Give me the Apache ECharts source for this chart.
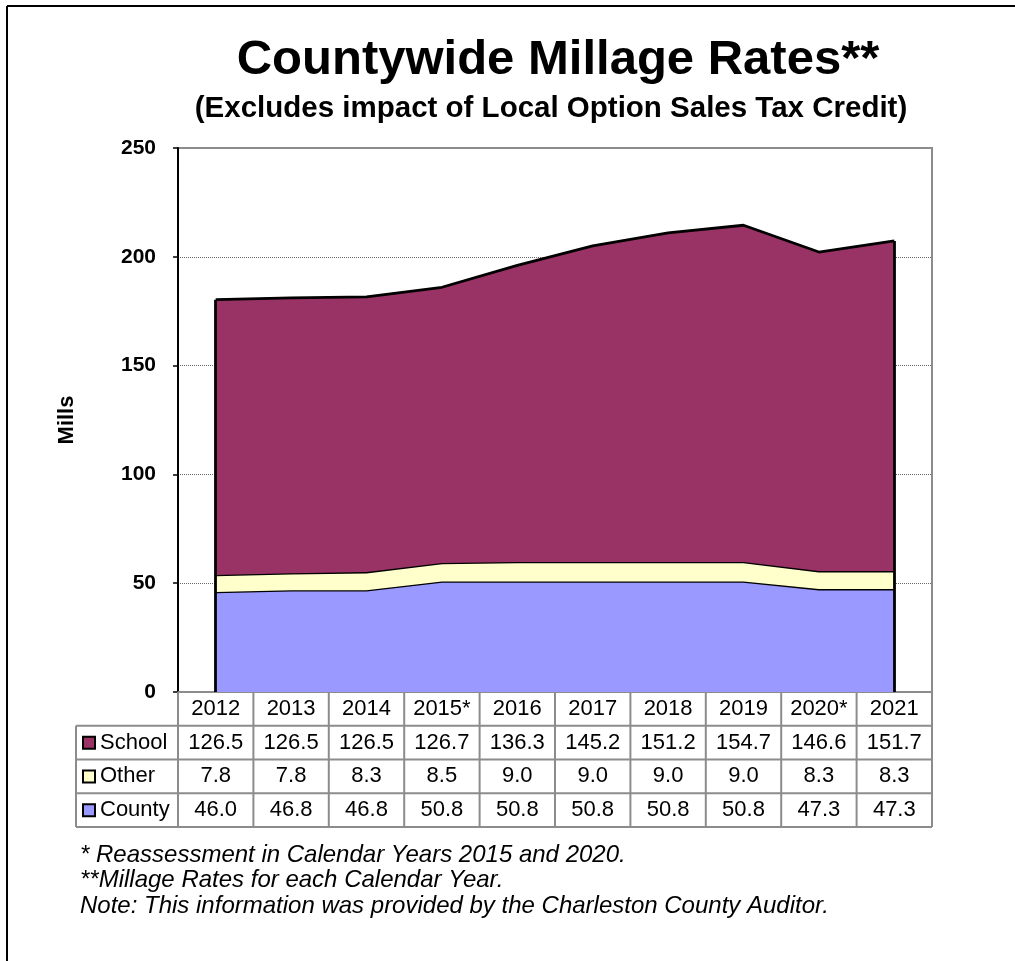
<!DOCTYPE html>
<html>
<head>
<meta charset="utf-8">
<script src="https://cdn.jsdelivr.net/npm/echarts@6/dist/echarts.min.js"></script>
<style>
html,body{margin:0;padding:0;background:#fff;}
#chart{width:1015px;height:961px;}
</style>
</head>
<body>
<div id="chart"></div>
<script>
const years = ['2012','2013','2014','2015*','2016','2017','2018','2019','2020*','2021'];
const school = [126.5,126.5,126.5,126.7,136.3,145.2,151.2,154.7,146.6,151.7];
const other = [7.8,7.8,8.3,8.5,9.0,9.0,9.0,9.0,8.3,8.3];
const county = [46.0,46.8,46.8,50.8,50.8,50.8,50.8,50.8,47.3,47.3];
const seriesNames = ['School','Other','County'];
const yMin = 0, yMax = 250, yStep = 50;
const footnotes = [
  '* Reassessment in Calendar Years 2015 and 2020.',
  '**Millage Rates for each Calendar Year.',
  'Note: This information was provided by the Charleston County Auditor.'
];

const colors = {School:'#993366', Other:'#FFFFCC', County:'#9999FF'};
const FONT = 'Arial, "Liberation Sans", sans-serif';
const totals = years.map((_, i) => +(county[i] + other[i] + school[i]).toFixed(1));

const GRID = {left:178, top:148, right:83, bottom:269};
const chart = echarts.init(document.getElementById('chart'), null, {renderer:'canvas'});

const gridCount = Math.round((yMax - yMin) / yStep) + 1;
const splitColors = [];
for (let i = 0; i < gridCount; i++) splitColors.push(i === 0 || i === gridCount - 1 ? 'rgba(0,0,0,0)' : '#666');

const option = {
  animation: false,
  backgroundColor: '#fff',
  textStyle: {fontFamily: FONT},
  title: [
    {text: 'Countywide Millage Rates**', left: 553, top: 31, textAlign: 'center',
     textStyle: {fontFamily: FONT, fontSize: 49, fontWeight: 'bold', color: '#000'}},
    {text: '(Excludes impact of Local Option Sales Tax Credit)', left: 546, top: 89, textAlign: 'center',
     textStyle: {fontFamily: FONT, fontSize: 29.5, fontWeight: 'bold', color: '#000'}}
  ],
  grid: {left: GRID.left, top: GRID.top, right: GRID.right, bottom: GRID.bottom,
         show: true, borderColor: '#8c8c8c', borderWidth: 2, backgroundColor: '#fff'},
  xAxis: {
    type: 'category', data: years, boundaryGap: true,
    axisLine: {lineStyle: {color: '#8c8c8c', width: 2}},
    axisTick: {show: false},
    axisLabel: {color: '#000', fontSize: 22, fontFamily: FONT, margin: 6, interval: 0}
  },
  yAxis: {
    type: 'value', min: yMin, max: yMax, interval: yStep,
    name: 'Mills', nameLocation: 'middle', nameRotate: 90, nameGap: 100,
    nameTextStyle: {fontFamily: FONT, fontSize: 22, fontWeight: 'bold', color: '#000'},
    axisLine: {show: true, lineStyle: {color: '#000', width: 2}},
    axisTick: {show: true, length: 5, lineStyle: {color: '#000', width: 1.5}},
    axisLabel: {color: '#000', fontSize: 21, fontWeight: 'bold', fontFamily: FONT, margin: 22},
    splitLine: {show: true, lineStyle: {color: splitColors, type: 'dotted', width: 1}}
  },
  series: [
    {name: 'County', type: 'line', stack: 'total', data: county, showSymbol: false, symbol: 'none',
     lineStyle: {color: '#000', width: 2.8}, areaStyle: {color: colors.County, opacity: 1}, z: 2},
    {name: 'Other', type: 'line', stack: 'total', data: other, showSymbol: false, symbol: 'none',
     lineStyle: {color: '#000', width: 2.8}, areaStyle: {color: colors.Other, opacity: 1}, z: 3},
    {name: 'School', type: 'line', stack: 'total', data: school, showSymbol: false, symbol: 'none',
     lineStyle: {color: '#000', width: 2.8}, areaStyle: {color: colors.School, opacity: 1}, z: 4,
     markLine: {
       silent: true, symbol: 'none', label: {show: false}, animation: false,
       lineStyle: {color: '#000', width: 2.8, type: 'solid'},
       data: [
         [{coord: [years[0], 0]}, {coord: [years[0], totals[0]]}],
         [{coord: [years[years.length-1], 0]}, {coord: [years[years.length-1], totals[totals.length-1]]}]
       ]
     }}
  ]
};
chart.setOption(option);

// Data table below the plot, laid out from the grid
function buildTable() {
  const W = chart.getWidth(), H = chart.getHeight();
  const x0 = GRID.left, x1 = W - GRID.right, yAxisPx = H - GRID.bottom;
  const n = years.length;
  const colW = (x1 - x0) / n;
  const rowH = 33.75;
  const tableLeft = 76;
  const rows = [
    {name: 'School', vals: school},
    {name: 'Other', vals: other},
    {name: 'County', vals: county}
  ];
  const lineStyle = {stroke: '#8c8c8c', lineWidth: 2};
  const els = [];
  const yRow0 = yAxisPx + rowH; // bottom of year row
  for (let r = 0; r <= rows.length; r++) {
    const y = yRow0 + r * rowH;
    els.push({type: 'line', shape: {x1: tableLeft, y1: y, x2: x1, y2: y}, style: lineStyle, z: 10});
  }
  els.push({type: 'line', shape: {x1: tableLeft, y1: yRow0, x2: tableLeft, y2: yRow0 + rows.length*rowH}, style: lineStyle, z: 10});
  for (let k = 0; k <= n; k++) {
    const x = x0 + k * colW;
    els.push({type: 'line', shape: {x1: x, y1: yAxisPx, x2: x, y2: yRow0 + rows.length*rowH}, style: lineStyle, z: 10});
  }
  rows.forEach((row, r) => {
    const cy = yRow0 + r * rowH + rowH / 2;
    els.push({type: 'rect', shape: {x: 83, y: cy - 6, width: 12, height: 12},
      style: {fill: colors[row.name], stroke: '#000', lineWidth: 2}, z: 11});
    els.push({type: 'text', x: 100, y: cy, style: {text: row.name, fill: '#000', font: '22px ' + FONT,
      textAlign: 'left', textVerticalAlign: 'middle'}, z: 11});
    row.vals.forEach((v, i) => {
      els.push({type: 'text', x: x0 + (i + 0.5) * colW, y: cy,
        style: {text: v.toFixed(1), fill: '#000', font: '22px ' + FONT, textAlign: 'center', textVerticalAlign: 'middle'}, z: 11});
    });
  });
  footnotes.forEach((t, i) => {
    els.push({type: 'text', x: 80, y: 855 + i * 25.5, style: {text: t, fill: '#000', font: 'italic 24px ' + FONT,
      textAlign: 'left', textVerticalAlign: 'middle'}, z: 11});
  });
  els.push({type: 'line', shape: {x1: 7, y1: 6, x2: W, y2: 6}, style: {stroke: '#000', lineWidth: 2}, z: 12});
  els.push({type: 'line', shape: {x1: 7, y1: 6, x2: 7, y2: H}, style: {stroke: '#000', lineWidth: 2}, z: 12});
  chart.setOption({graphic: {elements: els}});
}
buildTable();
</script>
</body>
</html>
